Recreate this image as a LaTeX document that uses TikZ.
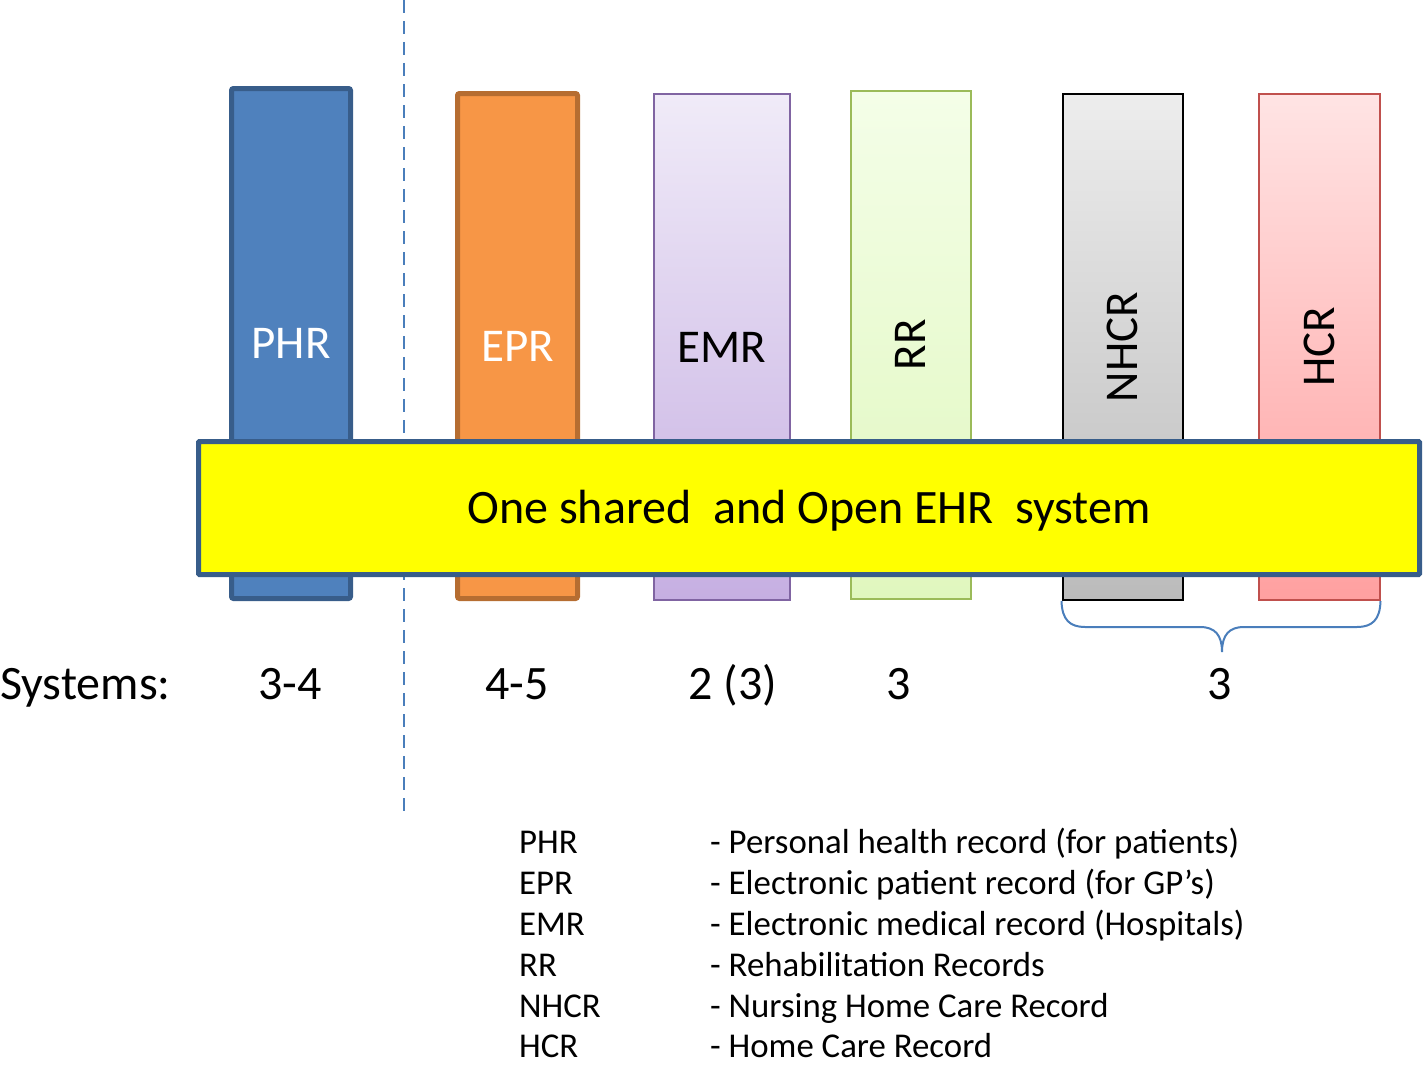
\documentclass[tikz,border=0pt]{standalone}
\usepackage{fontspec}
\setmainfont{Carlito}
\definecolor{phrfill}{HTML}{4F81BD}
\definecolor{phrline}{HTML}{385D8A}
\definecolor{eprfill}{HTML}{F79646}
\definecolor{eprline}{HTML}{B66D31}
\definecolor{emrtop}{HTML}{F0EBF8}
\definecolor{emrbot}{HTML}{C6AFE2}
\definecolor{emrline}{HTML}{8064A2}
\definecolor{rrtop}{HTML}{F4FEE8}
\definecolor{rrbot}{HTML}{E0F7BE}
\definecolor{rrline}{HTML}{9BBB59}
\definecolor{nhtop}{HTML}{EDEDED}
\definecolor{nhbot}{HTML}{BBBBBB}
\definecolor{hctop}{HTML}{FFE4E4}
\definecolor{hcbot}{HTML}{FFA0A0}
\definecolor{hcline}{HTML}{C0504D}
\definecolor{dashblue}{HTML}{4A7EBB}
\definecolor{ehryellow}{HTML}{FFFF00}
\tikzset{
  bigtext/.style={font=\fontsize{47}{56}\selectfont},
  legtext/.style={font=\fontsize{34.8}{40}\selectfont, anchor=base west, inner sep=0},
  bar/.style={rectangle, minimum width=119, minimum height=510, inner sep=0, bigtext},
  thinbar/.style={rectangle, minimum width=119, minimum height=506, inner sep=0, bigtext, line width=2},
  dashline/.style={draw=dashblue, line width=1.6, dash pattern=on 13 off 8},
  bracestyle/.style={draw=dashblue, line width=2},
  sysnum/.style={font=\fontsize{48}{56}\selectfont, anchor=base, inner sep=0}
}
\begin{document}
\begin{tikzpicture}[x=1pt,y=-1pt]
\useasboundingbox (0,0) rectangle (1424,1065);
% dashed separator
\coordinate (dtop) at (404,0);
\coordinate (dbot) at (404,815);
\draw[dashline] (dtop) -- (dbot);
% bars
\node[bar, fill=phrfill, draw=phrline, line width=5, rounded corners=2, text=white] (phr) at (291,343.5) {PHR};
\node[bar, fill=eprfill, draw=eprline, line width=5, rounded corners=2, text=white, minimum width=120, minimum height=505] (epr) at (517.5,346) {EPR};
\node[thinbar, top color=emrtop, bottom color=emrbot, draw=emrline, minimum width=136] (emr) at (721.5,347) {EMR};
\node[thinbar, top color=rrtop, bottom color=rrbot, draw=rrline, minimum width=120, minimum height=508] (rr) at (910.5,344.5) {\rotatebox{90}{RR}};
\node[thinbar, top color=nhtop, bottom color=nhbot, draw=black, minimum width=120] (nhcr) at (1122.5,347) {\rotatebox{90}{NHCR}};
\node[thinbar, top color=hctop, bottom color=hcbot, draw=hcline, minimum width=121] (hcr) at (1319,347) {\rotatebox{90}{HCR}};
% shared system box
\node[rectangle, fill=ehryellow, draw=phrline, line width=5, minimum width=1221, minimum height=133, inner sep=0, font=\fontsize{48}{56}\selectfont, rounded corners=1] (ehr) at (809,508) {\raisebox{-15pt}[0pt][0pt]{One shared~\ and Open EHR~\ system}};
% brace
\coordinate (b2) at (1200,627);
\coordinate (btip) at (1222,652);
\coordinate (b3) at (1244,627);
\draw[bracestyle] (nhcr.south west) .. controls (1062,620) and (1070,627) .. (1085,627) -- (b2)
  .. controls (1215,627) and (1222,635) .. (btip)
  .. controls (1222,635) and (1229,627) .. (b3) -- (1357,627)
  .. controls (1372,627) and (1380,620) .. (hcr.south east);
% systems row
\node[sysnum, anchor=base west] (sys) at (0,699) {Systems:};
\node[sysnum] (s1) at (290,699) {3-4};
\node[sysnum] (s2) at (517,699) {4-5};
\node[sysnum] (s3) at (733,699) {2 (3)};
\node[sysnum] (s4) at (899,699) {3};
\node[sysnum] (s5) at (1220,699) {3};
% legend
\node[legtext] (l1a) at (519,853.5) {PHR};
\node[legtext] (l1b) at (710,853.5) {- Personal health record (for patients)};
\node[legtext] (l2a) at (519,894.5) {EPR};
\node[legtext] (l2b) at (710,894.5) {- Electronic patient record (for GP’s)};
\node[legtext] (l3a) at (519,935.5) {EMR};
\node[legtext] (l3b) at (710,935.5) {- Electronic medical record (Hospitals)};
\node[legtext] (l4a) at (519,976.5) {RR};
\node[legtext] (l4b) at (710,976.5) {- Rehabilitation Records};
\node[legtext] (l5a) at (519,1017.5) {NHCR};
\node[legtext] (l5b) at (710,1017.5) {- Nursing Home Care Record};
\node[legtext] (l6a) at (519,1057.5) {HCR};
\node[legtext] (l6b) at (710,1057.5) {- Home Care Record};
\end{tikzpicture}
\end{document}
